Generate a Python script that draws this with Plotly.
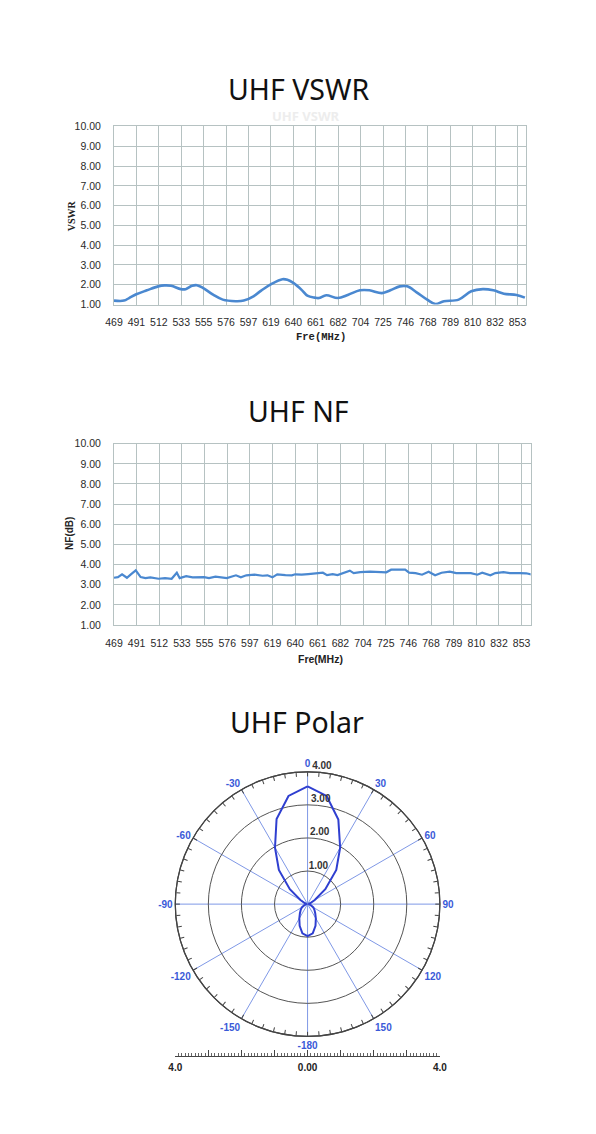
import plotly.graph_objects as go

# the page adds an 8px body margin, so the figure is drawn 8px smaller and shifted
OFF = 8
W, H = 596 - OFF, 1134 - OFF

# ---------------- data ----------------
x_tick_labels = ["469", "491", "512", "533", "555", "576", "597", "619", "640", "661",
                 "682", "704", "725", "746", "768", "789", "810", "832", "853"]
y_tick_labels = ["1.00", "2.00", "3.00", "4.00", "5.00", "6.00", "7.00", "8.00", "9.00", "10.00"]
y_tick_values = [1, 2, 3, 4, 5, 6, 7, 8, 9, 10]

vswr_freq = [469, 478.5, 483.4, 490.2, 500.3, 511, 517.2, 523.4, 532.6, 537.2, 543.3, 547.9,
             554, 563.3, 572.5, 584.7, 592.5, 601.7, 609.4, 618.6, 629.3, 634, 640, 648,
             653, 660, 664, 671, 682, 692, 703, 712, 724, 732, 741, 748, 757, 767, 775,
             783, 797, 809, 820, 830, 840, 852, 860]
vswr_vals = [1.20, 1.20, 1.33, 1.52, 1.72, 1.92, 1.97, 1.95, 1.78, 1.78, 1.95, 1.98,
             1.83, 1.50, 1.25, 1.17, 1.20, 1.42, 1.72, 2.03, 2.28, 2.25, 2.08, 1.72,
             1.45, 1.35, 1.33, 1.47, 1.33, 1.50, 1.72, 1.72, 1.58, 1.72, 1.92, 1.92,
             1.62, 1.25, 1.03, 1.17, 1.25, 1.67, 1.78, 1.72, 1.55, 1.48, 1.35]

nf_freq = [469, 472.7, 476.6, 481.2, 484.9, 489.5, 494.1, 498.7, 503.3, 511, 517.1, 523.3,
           528.2, 530.9, 537, 543.1, 553.9, 558.5, 564.6, 575.3, 583.9, 588.5, 593.7,
           601.4, 609, 613.6, 618.2, 622.8, 630.5, 636.6, 639.7, 645.8, 652, 659.6,
           665.8, 669.7, 675, 679.6, 685.6, 691.2, 694.8, 701, 710.2, 719.4, 725.5,
           730.1, 737.8, 743.3, 747, 753.1, 759.2, 765.4, 771.5, 777.6, 785.3, 791.4,
           799.1, 805.2, 811.3, 815.9, 823.6, 828.2, 835.9, 842, 851.2, 857.3, 862.8]
nf_vals = [3.35, 3.38, 3.52, 3.35, 3.52, 3.72, 3.38, 3.33, 3.37, 3.30, 3.33, 3.30,
           3.60, 3.33, 3.43, 3.37, 3.38, 3.33, 3.40, 3.33, 3.47, 3.37, 3.47,
           3.50, 3.45, 3.47, 3.37, 3.52, 3.48, 3.47, 3.52, 3.50, 3.53, 3.57,
           3.60, 3.48, 3.53, 3.48, 3.58, 3.70, 3.58, 3.63, 3.65, 3.63, 3.62,
           3.75, 3.75, 3.75, 3.60, 3.58, 3.50, 3.65, 3.47, 3.60, 3.65, 3.58,
           3.58, 3.58, 3.50, 3.60, 3.47, 3.58, 3.63, 3.58, 3.58, 3.57, 3.50]

polar_theta = [0, 10, 20, 30, 40, 50, 60, 70, 80, 90, 100, 110, 120, 130, 140, 150, 160,
               170, 180, 190, 200, 210, 220, 230, 240, 250, 260, 270, 280, 290, 300, 310,
               320, 330, 340, 350, 360]
polar_r = [3.56, 3.32, 2.72, 1.97, 1.35, 0.70, 0.25, 0.10, 0.05, 0.04, 0.06, 0.12, 0.20,
           0.27, 0.36, 0.50, 0.70, 0.90, 0.97, 0.90, 0.70, 0.50, 0.36, 0.27, 0.20, 0.12,
           0.06, 0.04, 0.05, 0.10, 0.25, 0.70, 1.35, 1.97, 2.74, 3.32, 3.56]

angle_ticks = [0, 30, 60, 90, 120, 150, 180, 210, 240, 270, 300, 330]
angle_labels = ["0", "30", "60", "90", "120", "150", "-180", "-150", "-120", "-90", "-60", "-30"]
minor_angle_ticks = list(range(0, 360, 5))
radial_ticks = [1, 2, 3, 4]
radial_labels = ["1.00", "2.00", "3.00", "4.00"]

scale_ticks = [-4, -3, -2, -1, 0, 1, 2, 3, 4]
scale_labels = ["4.0", "", "", "", "0.00", "", "", "", "4.0"]

# ---------------- helpers ----------------
def px_x(p):
    return (p - OFF) / W

def px_y(p):
    return 1 - (p - OFF) / H

x_step = (853 - 469) / 18.0
x_tick_vals = [469 + i * x_step for i in range(len(x_tick_labels))]

GRID = "#b6c2c2"
LINE_BLUE = "#4a88d0"
TICKFONT = dict(family="Liberation Sans, Arial", size=10.5, color="#2a2a2a")

fig = go.Figure()

fig.add_trace(go.Scatter(x=vswr_freq, y=vswr_vals, mode="lines",
                         line=dict(color=LINE_BLUE, width=2.6, shape="spline", smoothing=1.0),
                         xaxis="x", yaxis="y", showlegend=False, hoverinfo="skip"))
fig.add_trace(go.Scatter(x=nf_freq, y=nf_vals, mode="lines",
                         line=dict(color=LINE_BLUE, width=2.2),
                         xaxis="x2", yaxis="y2", showlegend=False, hoverinfo="skip"))

# polar main pattern
fig.add_trace(go.Scatterpolar(r=polar_r, theta=polar_theta, mode="lines",
                              line=dict(color="#2f3fd0", width=2),
                              subplot="polar", showlegend=False, hoverinfo="skip"))
# radial labels (placed just right of the 0-degree line)
fig.add_trace(go.Scatterpolar(r=radial_ticks, theta=[2] * len(radial_ticks), mode="text",
                              text=["<b>%s</b>" % t for t in radial_labels],
                              textposition="top right",
                              textfont=dict(family="Liberation Sans, Arial", size=10, color="#333333"),
                              subplot="polar", showlegend=False, hoverinfo="skip"))
# overlay subplot for the minor ticks on the outer ring
fig.add_trace(go.Scatterpolar(r=[4], theta=[0], mode="markers", marker=dict(opacity=0),
                              subplot="polar2", showlegend=False, hoverinfo="skip"))
# scale bar below the polar plot
fig.add_trace(go.Scatter(x=[-4, 4], y=[0, 0], mode="markers", marker=dict(opacity=0),
                         xaxis="x3", yaxis="y3", showlegend=False, hoverinfo="skip"))

common_x = dict(range=[469, 861.5], tickmode="array", tickvals=x_tick_vals,
                ticktext=x_tick_labels, showgrid=True, gridcolor=GRID, gridwidth=1,
                zeroline=False, showline=True, linecolor=GRID, mirror=True,
                ticks="", tickfont=TICKFONT, ticklabelstandoff=8, fixedrange=True)
common_y = dict(range=[1, 10], tickmode="array", tickvals=y_tick_values,
                ticktext=y_tick_labels, showgrid=True, gridcolor=GRID, gridwidth=1,
                zeroline=False, showline=True, linecolor=GRID, mirror=True,
                ticks="", tickfont=TICKFONT, ticklabelstandoff=10, fixedrange=True)

polar_dom_x = [px_x(170.7), px_x(442.7)]
polar_dom_y = [px_y(1043.7), px_y(771.7)]

fig.update_layout(
    width=W, height=H, margin=dict(l=0, r=0, t=0, b=0),
    paper_bgcolor="white", plot_bgcolor="white",
    xaxis=dict(domain=[px_x(107.7), px_x(531.7)], anchor="y", **common_x),
    yaxis=dict(domain=[px_y(301.7), px_y(121.7)], anchor="x", **common_y),
    xaxis2=dict(domain=[px_x(107.7), px_x(536)], anchor="y2", **common_x),
    yaxis2=dict(domain=[px_y(625.7), px_y(442.3)], anchor="x2", **common_y),
    polar=dict(
        domain=dict(x=polar_dom_x, y=polar_dom_y),
        bgcolor="rgba(0,0,0,0)",
        angularaxis=dict(rotation=90, direction="clockwise", tickmode="array",
                         tickvals=angle_ticks,
                         ticktext=["<b>%s</b>" % t for t in angle_labels],
                         tickfont=dict(family="Liberation Sans, Arial", size=10, color="#3a5ad8"),
                         showgrid=True, gridcolor="#7f98e6", gridwidth=1,
                         showline=True, linecolor="#444444", linewidth=1.2,
                         ticks=""),
        radialaxis=dict(range=[0, 4], tickmode="array", tickvals=radial_ticks,
                        showticklabels=False, showgrid=True, gridcolor="#555555",
                        gridwidth=1, showline=False, ticks=""),
    ),
    polar2=dict(
        domain=dict(x=polar_dom_x, y=polar_dom_y),
        bgcolor="rgba(0,0,0,0)",
        angularaxis=dict(rotation=90, direction="clockwise", tickmode="array",
                         tickvals=minor_angle_ticks, showticklabels=False,
                         showgrid=False, showline=True, linecolor="#444444",
                         linewidth=1.2, ticks="inside", ticklen=4, tickcolor="#444444"),
        radialaxis=dict(range=[0, 4], visible=False),
    ),
    xaxis3=dict(domain=polar_dom_x, anchor="y3", range=[-4, 4], tickmode="array",
                tickvals=scale_ticks, ticktext=["<b>%s</b>" % t if t else "" for t in scale_labels],
                showgrid=False, zeroline=False,
                showline=True, linecolor="#444444", linewidth=1, ticks="inside", ticklen=6,
                tickcolor="#444444",
                minor=dict(dtick=0.1, ticks="inside", ticklen=3, tickcolor="#666666", showgrid=False),
                tickfont=dict(family="Liberation Sans, Arial", size=10, color="#222222"),
                ticklabelstandoff=2, fixedrange=True),
    yaxis3=dict(domain=[px_y(1061), px_y(1056)], anchor="x3", range=[0, 1], visible=False,
                fixedrange=True),
)

annotations = [
    dict(text="UHF VSWR", x=px_x(297), y=px_y(84), font=dict(family="Noto Sans", size=28.5, color="#111111")),
    dict(text="<b>UHF VSWR</b>", x=px_x(305), y=px_y(111), font=dict(family="Noto Sans", size=13, color="#ededed")),
    dict(text="UHF NF", x=px_x(297), y=px_y(409), font=dict(family="Noto Sans", size=28.5, color="#111111")),
    dict(text="UHF Polar", x=px_x(296), y=px_y(724), font=dict(family="Noto Sans", size=28.5, color="#111111")),
    dict(text="<b>VSWR</b>", x=px_x(64), y=px_y(212), textangle=-90,
         font=dict(family="Liberation Serif", size=10, color="#222222")),
    dict(text="<b>Fre(MHz)</b>", x=px_x(320), y=px_y(334),
         font=dict(family="Liberation Mono", size=10.5, color="#222222")),
    dict(text="<b>NF(dB)</b>", x=px_x(62), y=px_y(533), textangle=-90,
         font=dict(family="Liberation Sans", size=10, color="#222222")),
    dict(text="<b>Fre(MHz)</b>", x=px_x(320), y=px_y(660),
         font=dict(family="Liberation Sans", size=10.5, color="#222222")),
]
for a in annotations:
    a.update(xref="paper", yref="paper", showarrow=False, xanchor="center", yanchor="middle")
fig.update_layout(annotations=annotations)

fig.write_html("out.html")
